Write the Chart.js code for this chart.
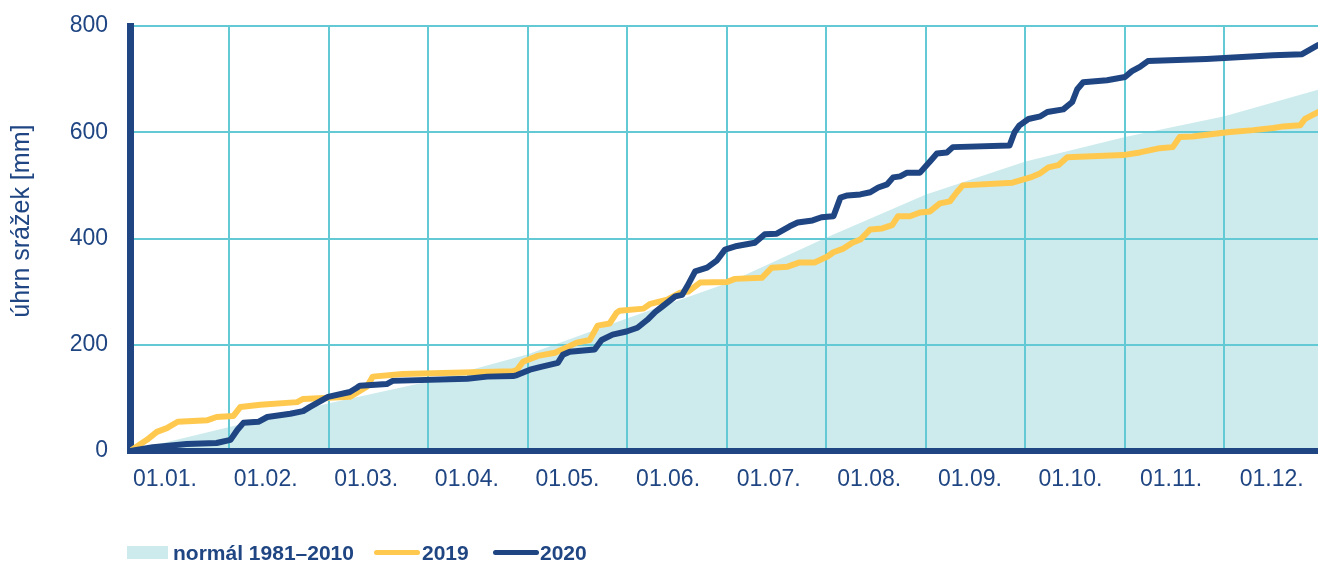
<!DOCTYPE html>
<html><head><meta charset="utf-8">
<script src="https://cdn.jsdelivr.net/npm/chart.js@4/dist/chart.umd.min.js"></script>
<style>
html,body{margin:0;padding:0;background:#fff;}
#wrap{position:relative;width:1318px;height:561px;overflow:hidden;font-family:"Liberation Sans",Arial,sans-serif;}
#c{position:absolute;left:0;top:0;}
.lg{position:absolute;font-weight:bold;font-size:21px;line-height:21px;color:#1f4582;white-space:nowrap;}
.sw{position:absolute;}
</style></head><body>
<div id="wrap">
<canvas id="c" width="1318" height="561"></canvas>
<div class="sw" style="left:127px;top:546px;width:41px;height:13px;background:#cdebed"></div>
<div class="lg" style="left:173px;top:542px">normál 1981–2010</div>
<div class="sw" style="left:374px;top:550px;width:46px;height:5px;border-radius:3px;background:#ffc94f"></div>
<div class="lg" style="left:422px;top:542px">2019</div>
<div class="sw" style="left:493px;top:550px;width:46px;height:5px;border-radius:3px;background:#1f4582"></div>
<div class="lg" style="left:540px;top:542px">2020</div>
</div>
<script>
const monthTickLabels = ['01.01.','01.02.','01.03.','01.04.','01.05.','01.06.','01.07.','01.08.','01.09.','01.10.','01.11.','01.12.'];
const yTickValues = [0,200,400,600,800];

const normalX = [0,1,2,3,4,5,6,7,8,9,10,11,11.94];
const normalY = [0,45,90,131,182,250,316,402,483,545,591,630,680];

const x2019 = [0,0.17,0.27,0.37,0.48,0.78,0.87,1.04,1.11,1.31,1.68,1.74,2.21,2.38,2.44,2.74,3.85,3.89,3.95,4.10,4.27,4.40,4.49,4.62,4.70,4.82,4.89,4.92,5.16,5.23,5.40,5.53,5.61,5.73,6.00,6.08,6.35,6.45,6.61,6.73,6.88,7.01,7.07,7.17,7.26,7.34,7.44,7.56,7.66,7.72,7.84,7.94,8.04,8.14,8.24,8.31,8.37,8.87,9.05,9.15,9.23,9.33,9.42,9.98,10.15,10.35,10.48,10.55,10.68,11.03,11.29,11.49,11.59,11.76,11.81,11.94];
const y2019 = [0,21,36,43,55,58,64,66,83,87,92,98,102,121,140,145,150,153,168,179,185,196,204,209,236,240,260,264,268,277,285,298,300,317,318,324,326,345,347,355,355,366,374,381,392,398,417,419,425,442,442,449,451,466,470,487,500,505,515,523,534,538,553,557,562,570,572,591,592,600,604,608,611,613,625,638];

const x2020 = [0,0.23,0.57,0.87,1.01,1.08,1.14,1.29,1.38,1.61,1.74,1.81,1.99,2.21,2.28,2.31,2.58,2.64,3.39,3.59,3.85,3.89,4.02,4.12,4.30,4.35,4.42,4.67,4.74,4.85,4.99,5.10,5.20,5.28,5.35,5.48,5.55,5.60,5.68,5.80,5.90,5.98,6.10,6.28,6.38,6.50,6.63,6.71,6.86,6.95,7.07,7.14,7.21,7.34,7.44,7.52,7.61,7.67,7.74,7.81,7.94,8.04,8.11,8.21,8.27,8.84,8.89,8.94,9.03,9.15,9.22,9.38,9.47,9.52,9.58,9.82,10.00,10.07,10.15,10.23,10.82,11.49,11.78,11.94];
const y2020 = [0,7,13,15,21,40,53,55,64,70,75,83,102,111,119,123,126,132,136,140,141,143,153,158,166,181,187,191,209,219,225,232,247,262,272,291,294,310,338,345,359,379,386,392,408,409,423,430,434,440,442,477,481,483,487,496,502,515,517,524,524,545,560,562,572,575,600,613,625,630,638,643,657,681,694,698,704,715,723,734,738,745,747,764];

const TXT = '#1f4582';
const GRID = '#63c9d4';
const FONT = '"Liberation Sans", Arial, sans-serif';
const toPts = (xs, ys) => xs.map((x, i) => ({x: x, y: ys[i]}));

const gridOverFill = {
  id: 'gridOverFill',
  afterDatasetDraw(chart, args) {
    if (args.index !== 2) return;
    const a = chart.chartArea;
    const sc = [chart.scales.x, chart.scales.y];
    sc.forEach(s => { if (typeof s.drawGrid === 'function') s.drawGrid(a); });
    sc.forEach(s => { if (typeof s.drawBorder === 'function') s.drawBorder(); });
  }
};

new Chart(document.getElementById('c'), {
  type: 'line',
  data: {
    datasets: [
      {label: '2020', data: toPts(x2020, y2020), borderColor: TXT, borderWidth: 6, pointRadius: 0, tension: 0, borderJoinStyle: 'round', borderCapStyle: 'round', fill: false},
      {label: '2019', data: toPts(x2019, y2019), borderColor: '#ffc94f', borderWidth: 6, pointRadius: 0, tension: 0, borderJoinStyle: 'round', borderCapStyle: 'round', fill: false},
      {label: 'normál 1981–2010', data: toPts(normalX, normalY), borderWidth: 0, borderColor: 'rgba(0,0,0,0)', backgroundColor: '#cdebed', pointRadius: 0, tension: 0, fill: 'origin'}
    ]
  },
  options: {
    responsive: false,
    devicePixelRatio: 1,
    animation: false,
    layout: {padding: {top: 26, right: 0, bottom: 0, left: 0}},
    plugins: {legend: {display: false}, tooltip: {enabled: false}},
    scales: {
      x: {
        type: 'linear', position: 'bottom', weight: 0, min: 0, max: 11.94,
        afterBuildTicks: s => { s.ticks = monthTickLabels.map((_, i) => ({value: i})); },
        ticks: {display: false},
        grid: {color: GRID, lineWidth: 2, drawTicks: false},
        border: {color: TXT, width: 6},
        afterFit: s => { s.height = 0; s.paddingLeft = 0; s.paddingRight = 0; }
      },
      x2: {
        type: 'linear', position: 'bottom', weight: 5, min: -0.348, max: 11.46,
        afterBuildTicks: s => { s.ticks = monthTickLabels.map((_, i) => ({value: i})); },
        ticks: {autoSkip: false, maxRotation: 0, padding: 15, color: TXT, font: {family: FONT, size: 23},
          callback: (v, i) => monthTickLabels[i]},
        grid: {display: false, drawTicks: false},
        border: {display: false},
        afterFit: s => { s.height = 110; s.paddingLeft = 0; s.paddingRight = 0; }
      },
      y: {
        min: 0, max: 800,
        afterBuildTicks: s => { s.ticks = yTickValues.map(v => ({value: v})); },
        ticks: {padding: 22, color: TXT, font: {family: FONT, size: 23}},
        grid: {color: GRID, lineWidth: 2, drawTicks: false},
        border: {color: TXT, width: 7},
        title: {display: true, text: '\u00a0\u00a0\u00a0\u00a0\u00a0úhrn srážek [mm]', color: TXT, font: {family: FONT, size: 25}, padding: {top: 7, bottom: 0}},
        afterFit: s => { s.width = 130; s.paddingTop = 0; s.paddingBottom = 0; }
      }
    }
  },
  plugins: [gridOverFill]
});
</script>
</body></html>
